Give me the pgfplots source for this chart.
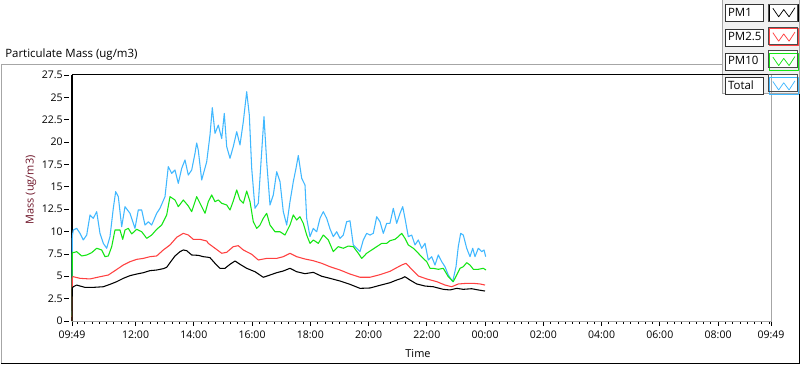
\documentclass[border=0pt]{standalone}
\usepackage{fontspec}
\setmainfont{Open Sans}
\usepackage{pgfplots}
\pgfplotsset{compat=1.18}
\definecolor{cTotal}{RGB}{64,184,255}
\definecolor{cPMten}{RGB}{20,230,20}
\definecolor{cPMtwo}{RGB}{255,64,64}
\definecolor{cPMone}{RGB}{0,0,0}
\definecolor{ylab}{RGB}{110,20,40}
\definecolor{panel}{RGB}{240,240,240}
\begin{document}
\begin{tikzpicture}
\useasboundingbox (0,0) rectangle (600pt,273.75pt);
\fill[white] (0,0) rectangle (600pt,273.75pt);
% outer frame
\draw[gray!70, line width=0.75pt] (0.75pt,1.5pt) -- (0.75pt,225.4pt) -- (541.5pt,225.4pt);
\draw[black, line width=0.75pt] (0.75pt,1.5pt) -- (599.4pt,1.5pt) -- (599.4pt,203.25pt);
% legend panel
\fill[panel] (541.5pt,203.25pt) rectangle (600pt,273.75pt);
\draw[gray!70, line width=0.75pt] (541.5pt,273.75pt) -- (541.5pt,203.25pt) -- (599.4pt,203.25pt) -- (599.4pt,273.75pt);
% swatch backgrounds
\foreach \yt/\yb in {270.75/258, 253.25/240.5, 235.75/223, 218.25/205.5} {
  \fill[white] (576pt,\yt pt) rectangle (597.75pt,\yb pt);
}
% title
\node[anchor=base west, inner sep=0pt, font=\fontsize{8.6}{10}\selectfont] at (3.75pt,230.6pt) {Particulate Mass (ug/m3)};
\begin{axis}[
  at={(54pt,33pt)}, anchor=south west, scale only axis,
  width=524.25pt, height=184.5pt,
  xmin=0, xmax=24, ymin=0, ymax=27.5,
  clip=false,
  axis line style={draw=none},
  tick pos=left, tick align=outside,
  xtick={0,2.18333,4.18333,6.18333,8.18333,10.18333,12.18333,14.18333,16.18333,18.18333,20.18333,22.18333,24},
  xticklabels={09:49,12:00,14:00,16:00,18:00,20:00,22:00,00:00,02:00,04:00,06:00,08:00,09:49},
  minor xtick={0.18333,0.43333,...,23.95},
  ytick={0,2.5,...,27.5},
  major tick length=3.6pt, minor tick length=1.9pt,
  tick style={black, line width=0.6pt},
  ytick style={xshift=-2.2pt},
  /pgf/number format/assume math mode=true,
  yticklabel style={/pgf/number format/fixed, inner xsep=1pt, xshift=-2.2pt},
  tick label style={font=\fontsize{7.9}{9}\selectfont},
  xlabel={Time},
  xlabel style={at={(axis description cs:0.495,-0.134)}, anchor=center, font=\fontsize{8.2}{10}\selectfont},
  ylabel={Mass (ug/m3)},
  ylabel style={at={(axis description cs:-0.0587,0.533)}, anchor=center, font=\fontsize{8.2}{10}\selectfont, text=ylab},
  reverse legend,
  legend plot pos=right,
  legend style={at={(axis description cs:0.9342,1.2886)}, anchor=north west,
    draw=none, fill=none, inner sep=0pt, outer sep=0pt,
    row sep=4.75pt, column sep=3.75pt,
    cells={anchor=west},
    nodes={draw=black!80, fill=white, text width=24.5pt, inner xsep=2pt, inner ysep=0pt,
      minimum height=12.75pt, text height=6.3pt, text depth=1.8pt, align=left,
      font=\fontsize{8.6}{10}\selectfont, line width=0.6pt}},
  legend image code/.code={
    \draw[line width=0.55pt] (2.6pt,3.6pt) -- (7pt,-2.8pt) -- (10.8pt,2.6pt) -- (14.8pt,-2.8pt) -- (19.2pt,4pt);
    \path (0pt,-6.375pt) rectangle (21.75pt,6.375pt);
  },
  every axis plot/.append style={line width=0.8pt, line join=round},
]
\draw[gray!70, line width=0.75pt] (rel axis cs:0,0) -- (rel axis cs:1,0) -- (rel axis cs:1,1);
\draw[black, line width=0.75pt] (rel axis cs:1,1) -- (rel axis cs:0,1);
\draw[black, line width=1.2pt] (rel axis cs:0,1) -- (rel axis cs:0,0);

% Total
\addplot[cTotal] coordinates {
(0,0)(0.01,9.5)(0.045,10.17)(0.161,10.36)(0.275,9.8)(0.388,9.06)(0.505,9.61)(0.618,11.85)(0.731,11.48)(0.848,12.22)(0.961,9.8)(1.075,8.68)(1.191,8.13)(1.305,9.43)(1.418,12.6)(1.5,14.46)(1.59,13.9)(1.706,10.54)(1.82,12.78)(1.991,12.04)(2.163,10.36)(2.276,12.41)(2.393,12.41)(2.506,10.73)(2.62,11.1)(2.736,10.73)(2.908,12.04)(3.021,12.6)(3.193,13.9)(3.306,17.25)(3.423,16.51)(3.536,16.88)(3.65,15.39)(3.767,17.07)(3.88,18.0)(3.993,16.32)(4.11,16.88)(4.223,18.74)(4.281,19.9)(4.336,19.1)(4.453,15.76)(4.625,17.8)(4.738,20.79)(4.817,23.85)(4.91,20.98)(5.023,21.9)(5.14,20.4)(5.229,23.2)(5.311,19.5)(5.425,18.19)(5.538,19.5)(5.655,21.16)(5.768,19.68)(5.882,22.28)(5.998,25.63)(6.088,23.03)(6.17,17.07)(6.283,12.6)(6.397,13.16)(6.513,18.93)(6.592,22.84)(6.685,17.8)(6.798,12.97)(6.912,14.09)(7.028,16.69)(7.142,15.57)(7.255,12.22)(7.372,10.73)(7.485,13.34)(7.598,15.57)(7.691,17.07)(7.77,18.5)(7.887,15.95)(8.0,15.2)(8.058,11.48)(8.172,9.43)(8.285,10.36)(8.402,9.98)(8.515,11.48)(8.628,12.22)(8.745,11.48)(8.858,10.3)(8.972,9.43)(9.088,9.98)(9.202,9.24)(9.315,9.61)(9.431,11.1)(9.545,11.2)(9.658,8.5)(9.775,8.13)(9.888,7.75)(10.002,9.06)(10.118,9.8)(10.232,9.61)(10.345,9.8)(10.462,11.66)(10.575,11.1)(10.689,9.8)(10.805,10.92)(10.918,10.92)(11.032,12.6)(11.148,10.92)(11.262,12.04)(11.355,12.78)(11.433,11.48)(11.547,9.43)(11.663,9.61)(11.777,8.5)(11.89,9.06)(12.007,8.13)(12.12,8.68)(12.233,6.82)(12.35,7.19)(12.463,6.26)(12.577,7.38)(12.694,6.63)(12.807,6.07)(12.92,5.14)(13.071,4.4)(13.185,6.07)(13.263,8.31)(13.345,9.8)(13.435,9.61)(13.552,8.13)(13.665,7.19)(13.758,8.13)(13.837,7.19)(13.95,8.13)(14.067,7.75)(14.146,7.94)(14.205,7.19)
};
% PM10
\addplot[cPMten] coordinates {
(0,0)(0.01,7.7)(0.045,7.64)(0.161,7.75)(0.333,7.27)(0.505,7.38)(0.676,7.64)(0.848,8.13)(1.02,7.94)(1.133,7.19)(1.247,7.27)(1.363,8.31)(1.476,10.17)(1.648,10.17)(1.741,9.13)(1.82,10.17)(1.933,10.36)(2.05,9.73)(2.221,10.25)(2.393,9.98)(2.565,9.24)(2.736,9.61)(2.908,10.25)(3.08,10.73)(3.251,11.85)(3.365,13.9)(3.536,13.53)(3.65,12.78)(3.822,13.53)(3.993,12.86)(4.11,12.22)(4.281,13.9)(4.453,12.78)(4.567,12.04)(4.68,13.34)(4.797,14.09)(4.91,13.34)(5.023,13.53)(5.14,13.16)(5.311,12.97)(5.425,12.41)(5.538,13.42)(5.655,14.65)(5.768,13.53)(5.882,13.16)(5.998,14.53)(6.112,13.34)(6.225,11.1)(6.342,10.36)(6.455,10.73)(6.568,11.48)(6.685,12.04)(6.798,10.73)(6.97,9.98)(7.142,9.98)(7.313,9.61)(7.485,10.73)(7.598,11.85)(7.715,11.29)(7.828,11.66)(7.942,10.92)(8.058,9.61)(8.172,8.68)(8.285,9.06)(8.457,8.68)(8.628,9.61)(8.8,9.06)(8.972,7.75)(9.143,8.31)(9.315,8.13)(9.487,8.38)(9.658,8.31)(9.83,7.57)(9.947,7.0)(10.118,7.57)(10.29,7.94)(10.462,8.31)(10.634,8.68)(10.805,8.68)(10.918,8.98)(11.09,9.13)(11.203,9.43)(11.32,9.8)(11.433,9.24)(11.547,8.5)(11.719,8.13)(11.89,7.57)(12.062,7.0)(12.179,6.63)(12.292,5.89)(12.405,5.89)(12.577,5.78)(12.748,5.89)(12.92,4.95)(13.092,4.4)(13.208,5.14)(13.322,5.89)(13.435,6.07)(13.552,6.52)(13.665,6.26)(13.779,5.78)(13.95,5.78)(14.122,5.89)(14.215,5.7)
};
% PM2.5
\addplot[cPMtwo] coordinates {
(0,0)(0.01,4.9)(0.045,4.95)(0.275,4.77)(0.618,4.7)(0.961,4.95)(1.247,5.14)(1.476,5.63)(1.761,6.26)(1.991,6.63)(2.221,6.89)(2.448,7.0)(2.678,7.19)(2.908,7.27)(3.135,7.94)(3.365,8.5)(3.595,9.36)(3.822,9.8)(3.993,9.61)(4.165,9.13)(4.395,9.13)(4.625,8.94)(4.68,8.68)(4.91,8.13)(5.14,7.57)(5.311,7.68)(5.538,8.31)(5.71,8.42)(5.882,7.94)(6.17,7.46)(6.397,6.82)(6.685,7.0)(7.028,7.0)(7.255,7.19)(7.485,7.57)(7.715,7.19)(8.0,6.93)(8.285,6.74)(8.573,6.45)(8.858,6.07)(9.202,5.7)(9.545,5.25)(9.888,4.89)(10.232,4.89)(10.575,5.18)(10.918,5.55)(11.148,5.96)(11.32,6.26)(11.468,6.45)(11.663,5.78)(11.89,5.03)(12.179,4.7)(12.522,4.4)(12.807,4.02)(13.037,3.83)(13.263,4.14)(13.552,4.21)(13.779,4.21)(14.009,4.14)(14.18,4.02)
};
% PM1
\addplot[cPMone] coordinates {
(0,0)(0.01,3.7)(0.045,3.83)(0.161,4.02)(0.275,3.91)(0.446,3.76)(0.731,3.76)(1.075,3.83)(1.305,4.1)(1.535,4.4)(1.761,4.77)(1.991,5.07)(2.221,5.25)(2.448,5.4)(2.678,5.63)(2.908,5.7)(3.135,5.85)(3.251,6.0)(3.365,6.52)(3.536,7.27)(3.708,7.75)(3.822,7.94)(3.938,7.86)(4.11,7.38)(4.336,7.34)(4.508,7.19)(4.68,7.12)(4.738,7.08)(4.91,6.45)(5.082,5.89)(5.253,5.89)(5.425,6.34)(5.597,6.71)(5.768,6.34)(5.998,5.89)(6.283,5.51)(6.568,4.89)(6.798,5.14)(7.028,5.4)(7.255,5.59)(7.485,5.89)(7.715,5.51)(8.0,5.29)(8.285,5.44)(8.573,5.0)(8.858,4.77)(9.202,4.47)(9.545,4.1)(9.888,3.65)(10.232,3.69)(10.575,3.99)(10.918,4.28)(11.148,4.58)(11.32,4.77)(11.433,4.95)(11.605,4.58)(11.835,4.14)(12.12,3.91)(12.405,3.83)(12.748,3.54)(12.979,3.47)(13.208,3.65)(13.435,3.54)(13.723,3.61)(13.95,3.47)(14.18,3.35)
};
\legend{Total,PM10,PM2.5,PM1}
\end{axis}
% swatch borders
\foreach \yt/\yb in {270.75/258, 253.25/240.5, 235.75/223, 218.25/205.5} {
  \draw[black!70, line width=0.7pt] (576pt,\yt pt) rectangle (597.75pt,\yb pt);
}
\end{tikzpicture}
\end{document}
